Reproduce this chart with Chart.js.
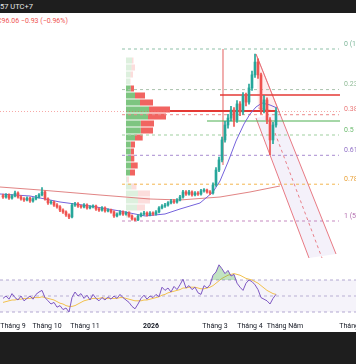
<!DOCTYPE html>
<html><head><meta charset="utf-8">
<script src="https://cdn.jsdelivr.net/npm/chart.js@4"></script>
<style>
html,body{margin:0;padding:0;width:356px;height:364px;overflow:hidden;background:#fff;font-family:Roboto,"Noto Sans",sans-serif;}
#top{position:absolute;left:0;top:0;width:356px;height:13px;background:#1e1e1e;color:#e6e6e6;font-size:7.5px;line-height:13px;white-space:nowrap;}
#top span{position:absolute;left:0;}
#ohlc{position:absolute;left:-3px;top:17px;font-size:7px;color:#ef5350;white-space:nowrap;}
#bottom{position:absolute;left:0;top:332px;width:356px;height:32px;background:#1e1e1e;}
canvas{position:absolute;}
#vp{left:126px;top:57px;z-index:1;}
#main{left:0;top:30px;z-index:2;}
#rsi{left:0;top:256px;z-index:3;}
</style></head>
<body>
<div id="top"><span>57 UTC+7</span></div>
<div id="ohlc">C96.06 −0.93 (−0.96%)</div>
<canvas id="vp" width="60" height="161"></canvas>
<canvas id="main" width="420" height="228"></canvas>
<canvas id="rsi" width="420" height="76"></canvas>
<div id="bottom"></div>
<script>
// ---- candles (one bar per index) ----
const opens = [64.5,64.0,64.8,63.6,64.4,65.5,64.0,63.3,62.9,63.6,
62.5,63.3,64.0,64.8,65.9,63.3,61.8,62.1,61.0,60.3,
59.1,58.4,57.3,56.5,61.0,61.4,60.6,60.3,61.0,59.9,
60.3,60.6,59.5,59.1,59.9,58.8,59.1,58.4,56.9,57.6,
58.4,57.6,58.0,56.9,55.8,55.4,56.9,57.6,58.0,57.3,
58.0,57.6,58.4,59.9,60.6,61.0,61.8,62.5,62.1,62.9,
64.0,65.9,65.1,65.9,64.8,65.5,65.1,66.3,66.6,65.9,
65.5,68.5,74.1,77.9,85.4,91.0,93.6,96.6,92.9,98.9,
95.9,101.9,99.6,104.9,109.8,114.6,109.8,96.6,100.4,92.9,
85.4,91.0];
const closes = [64.0,64.8,63.6,64.4,65.5,64.0,63.3,62.9,63.6,62.5,
63.3,64.0,64.8,65.9,63.3,61.8,62.1,61.0,60.3,59.1,
58.4,57.3,56.5,61.0,61.4,60.6,60.3,61.0,59.9,60.3,
60.6,59.5,59.1,59.9,58.8,59.1,58.4,56.9,57.6,58.4,
57.6,58.0,56.9,55.8,55.4,56.9,57.6,58.0,57.3,58.0,
57.6,58.4,59.9,60.6,61.0,61.8,62.5,62.1,62.9,64.0,
65.9,65.1,65.9,64.8,65.5,65.1,66.3,66.6,65.9,65.5,
68.5,74.1,77.9,85.4,91.0,93.6,96.6,92.9,98.9,95.9,
101.9,99.6,104.9,109.8,114.6,109.8,96.6,100.4,92.9,85.4,
91.0,96.06];
const highs = [65.1,65.3,65.2,64.9,66.2,65.9,64.5,63.8,64.1,64.0,
63.8,64.6,65.3,67.5,66.3,63.7,62.7,62.5,61.5,60.8,
59.6,58.8,57.7,61.6,62.0,61.9,61.0,61.5,61.4,60.8,
61.1,61.0,59.9,60.4,60.3,59.6,59.5,58.8,58.1,58.9,
58.8,58.5,58.4,57.3,56.2,57.4,58.1,58.6,58.4,58.5,
58.4,58.9,60.4,61.2,61.6,62.3,63.1,63.0,63.4,64.6,
66.5,66.4,66.5,66.3,66.0,66.0,66.9,67.2,67.0,66.4,
69.3,75.0,79.0,86.5,92.4,95.0,98.0,97.5,100.2,99.8,
103.2,103.0,106.3,111.2,117.6,115.8,110.5,102.0,101.2,93.8,
92.0,97.4];
const lows = [63.5,63.6,63.1,63.2,64.0,63.6,62.8,62.3,62.5,62.0,
62.1,62.9,63.6,64.4,62.8,61.2,61.3,60.5,59.8,58.5,
57.8,56.7,55.9,56.2,60.5,60.1,59.8,59.9,59.4,59.5,
59.9,59.0,58.6,58.7,58.3,58.4,57.9,56.3,56.5,57.2,
57.1,57.2,56.4,55.3,55.0,55.1,56.5,57.2,56.8,56.9,
57.1,57.2,58.0,59.5,60.1,60.6,61.4,61.6,61.7,62.5,
63.6,64.6,64.7,64.3,64.4,64.6,64.7,65.8,65.4,64.9,
65.1,68.0,73.5,77.2,84.6,89.8,92.5,90.5,92.0,94.5,
95.0,98.2,98.8,104.0,108.8,108.5,95.2,95.5,91.5,79.8,
84.0,90.2];

// ---- moving averages (index, price) ----
const maFastX = [-1,9,19,29,39,47.33,54,59,65.67,70,72.33,75,77.67,80.33,82.33,84.33,86.33,89,91.33];
const maFastY = [65.13,64.38,62.13,60.63,58.75,56.88,57.63,59.5,61.75,65.88,70.0,77.13,85.0,91.38,95.13,97.75,99.25,98.5,97.38];
const maSlowX = [-1,12.33,32.33,49,59,72.33,82.33,92.33];
const maSlowY = [67.75,66.63,64.75,63.25,62.88,64.0,65.88,68.13];

// ---- fibonacci retracement ----
const fibPrices = [119.5,104.28,94.86,87.25,79.64,68.80,55.0];
const fibLabels = ["0 (119.50)","0.236 (104.28)","0.382 (94.86)","0.5 (87.25)","0.618 (79.64)","0.786 (68.80)","1 (55.00)"];
const fibLineColors = ["#8fc1a9","#a9c2ad","#ec8a8a","#9fcf9f","#a88bd0","#f3b64f","#c689c0"];
const fibTextColors = ["#7fb79a","#8fbb96","#ea7a7a","#6cbb6e","#9170c6","#e9a23a","#b46fb0"];
const fibRange = [39.67, 112];

// ---- drawn levels ----
const pocLevel = [96.25], pocRange = [55.67, 91.33];
const redLevel = [102.25], redRange = [72.33, 112.33];
const greenLevel = [92.5], greenRange = [68, 112.33];
const vLineX = [73.33], vLineY = [119.5, 76.0];
const lastPrice = [96.06];

// ---- channel ----
const chAX = [84.33,111], chAY = [117.63,42.63];
const chBX = [84.33,102], chBY = [93.63,41.13];
const chMX = [90.67,106.33], chMY = [88.0,41.13];
const chFillX = [92.07,111,102,84.33], chFillY = [95.88,42.63,41.13,93.63];
const triX = [84.33,92.07,85], triY = [117.63,95.88,97.38];

// ---- volume profile rows (top to bottom) ----
const vpLevels = [115.2,112.6,110.0,107.3,104.7,102.1,99.4,96.8,94.2,91.6,88.9,86.3,83.7,81.1,78.4,75.8,73.2,70.5,67.9,65.3,62.7,60.0,57.4];
const vpUp =   [6,5.5,4.5,4,4.7,9,14,23,22,14.7,14.7,9,4.7,4.7,5,5,4,1,5.5,12,12,11,3];
const vpDown = [1.5,3.5,2.5,0.5,3.3,10,13,21,18,13.3,12.3,7.7,4.3,3.3,3.3,6.7,5,2,5,12,12,8,2];
const vpInValueArea = [0,0,0,0,1,1,1,1,1,1,1,1,1,1,1,1,1,0,0,0,0,0,0];

// ---- RSI ----
const rsi = [47,50,46,53,48,45,50,44,47,50,46,52,55,57,48,44,40,42,36,38,33,35,30,48,55,50,53,47,51,45,
52,47,44,48,45,49,46,50,47,52,48,45,42,37,34,40,47,51,46,50,48,52,49,61,57,60,55,62,58,64,
71,60,63,58,61,54,52,63,60,64,76,80,89,84,78,82,75,77,66,61,57,66,70,68,64,58,48,46,44,40,47,52];
const rsiMa = [42,43,44,45,45,46,46,47,47,47,48,48,48,49,48,47,46,45,43,41,40,38,37,37,38,40,42,44,45,46,
47,47,47,48,47,47,47,47,47,48,48,47,46,45,44,44,44,45,45,46,47,48,49,51,52,54,55,56,57,58,
60,60,61,61,61,60,59,59,60,61,63,66,69,72,74,76,77,78,77,76,74,72,71,70,68,66,63,60,57,55,53,52];
const rsiLevels = [70,50,30];

// ---- time axis ----
const monthPos = [3.33,14.67,27.33,49.33,70.67,82.33,94,116.33];
const monthLabels = ["Tháng 9","Tháng 10","Tháng 11","2026","Tháng 3","Tháng 4","Tháng Năm","Tháng 6"];

const UP = '#26a69a', DN = '#ef5350';
const pts = (xs, ys) => xs.map((x, i) => ({x, y: ys[i]}));
const hline = (v, r) => [{x: r[0], y: v}, {x: r[1], y: v}];
const lineDs = (data, color, extra) => Object.assign({type:'line', data, borderColor: color, borderWidth: 1, pointRadius: 0, fill: false, tension: 0}, extra || {});
const candleCol = ctx => closes[ctx.dataIndex] >= opens[ctx.dataIndex] ? UP : DN;

// Volume profile
new Chart(document.getElementById('vp'), {
  type: 'bar',
  data: {
    labels: vpLevels.map(String),
    datasets: [
      {data: vpUp, backgroundColor: ctx => vpInValueArea[ctx.dataIndex] ? 'rgba(102,187,106,0.85)' : 'rgba(102,187,106,0.22)'},
      {data: vpDown, backgroundColor: ctx => vpInValueArea[ctx.dataIndex] ? 'rgba(239,83,80,0.9)' : 'rgba(239,83,80,0.2)'}
    ]
  },
  options: {
    indexAxis: 'y', responsive: false, animation: false, events: [],
    layout: {padding: 0},
    datasets: {bar: {barPercentage: 0.86, categoryPercentage: 1}},
    plugins: {legend: {display: false}, tooltip: {enabled: false}},
    scales: {x: {stacked: true, min: 0, max: 60, display: false}, y: {stacked: true, display: false}}
  }
});

// Main price panel
const datasets = [
  {type:'bar', data: closes.map((c, i) => ({x: i, y: [opens[i], c]})), backgroundColor: candleCol, barThickness: 2, grouped: false, minBarLength: 1, order: 1},
  {type:'bar', data: closes.map((c, i) => ({x: i, y: [lows[i], highs[i]]})), backgroundColor: candleCol, barThickness: 1, grouped: false, order: 2},
  lineDs(pts(maFastX, maFastY), '#7563dc', {order: 3}),
  lineDs(pts(maSlowX, maSlowY), 'rgba(220,110,110,0.85)', {order: 4}),
  lineDs(hline(pocLevel[0], pocRange), '#e53935', {borderWidth: 2, order: 5}),
  lineDs(hline(redLevel[0], redRange), '#e53935', {borderWidth: 1.5, order: 5}),
  lineDs(hline(greenLevel[0], greenRange), '#4caf50', {borderWidth: 1, order: 5}),
  lineDs([{x: vLineX[0], y: vLineY[0]}, {x: vLineX[0], y: vLineY[1]}], 'rgba(236,150,150,0.75)', {order: 6}),
  lineDs(hline(lastPrice[0], [-1, 112.33]), 'rgba(239,83,80,0.5)', {borderDash: [1, 2], order: 7}),
  lineDs(pts(chAX, chAY), 'rgba(229,100,110,0.85)', {order: 8}),
  lineDs(pts(chBX, chBY), 'rgba(229,100,110,0.85)', {order: 8}),
  lineDs(pts(chMX, chMY), 'rgba(229,100,110,0.8)', {borderDash: [3, 3], order: 8}),
  lineDs(pts(chFillX, chFillY), 'rgba(0,0,0,0)', {borderWidth: 0, fill: 'shape', backgroundColor: 'rgba(149,117,205,0.1)', order: 30}),
  lineDs(pts(triX, triY), 'rgba(229,115,115,0.6)', {fill: 'shape', backgroundColor: 'rgba(239,83,80,0.09)', order: 30})
];
fibPrices.forEach((p, k) => datasets.push(lineDs(hline(p, fibRange), fibLineColors[k], {borderDash: [3, 3], order: 20})));

new Chart(document.getElementById('main'), {
  type: 'bar',
  data: {datasets},
  options: {
    responsive: false, animation: false, events: [],
    layout: {padding: 0},
    plugins: {legend: {display: false}, tooltip: {enabled: false}},
    scales: {
      x: {type: 'linear', min: -1, max: 112.333, offset: false, display: false},
      y: {
        type: 'linear', position: 'right', min: 41.125, max: 126.625,
        grid: {display: false, drawTicks: false}, border: {display: false},
        afterBuildTicks: ax => { ax.ticks = fibPrices.map(v => ({value: v})); },
        afterFit: ax => { ax.width = 80; ax.paddingTop = 0; ax.paddingBottom = 0; },
        ticks: {autoSkip: false, padding: 4, labelOffset: -5, font: {size: 7, family: 'Roboto'},
          color: ctx => fibTextColors[ctx.index], callback: (v, i) => fibLabels[i]}
      }
    }
  }
});

// RSI panel
new Chart(document.getElementById('rsi'), {
  type: 'line',
  data: {datasets: [
    lineDs(rsi.map((v, i) => ({x: i, y: v})), '#7e57c2', {order: 1, fill: {target: {value: 70}, above: 'rgba(76,175,80,0.35)', below: 'rgba(0,0,0,0)'}}),
    lineDs(rsiMa.map((v, i) => ({x: i, y: v})), '#f2c14e', {order: 2}),
    lineDs(hline(rsiLevels[0], [-1, 139]), 'rgba(150,135,190,0.7)', {borderDash: [3, 3], fill: '+1', backgroundColor: 'rgba(149,117,205,0.09)', order: 5}),
    lineDs(hline(rsiLevels[2], [-1, 139]), 'rgba(150,135,190,0.7)', {borderDash: [3, 3], order: 5}),
    lineDs(hline(rsiLevels[1], [-1, 139]), 'rgba(150,135,190,0.6)', {borderDash: [3, 3], order: 5})
  ]},
  options: {
    responsive: false, animation: false, events: [],
    layout: {padding: 0},
    plugins: {legend: {display: false}, tooltip: {enabled: false}},
    scales: {
      x: {
        type: 'linear', min: -1, max: 139,
        grid: {display: false, drawTicks: false}, border: {display: false},
        afterBuildTicks: ax => { ax.ticks = monthPos.map(v => ({value: v})); },
        afterFit: ax => { ax.height = 12; ax.paddingLeft = 0; ax.paddingRight = 0; },
        ticks: {autoSkip: false, maxRotation: 0, padding: 2, color: '#131722',
          font: ctx => ({size: 7, family: 'Roboto', weight: monthLabels[ctx.index] === '2026' ? 'bold' : 'normal'}),
          callback: (v, i) => monthLabels[i]}
      },
      y: {min: 20, max: 100, display: false}
    }
  }
});
</script>
</body></html>
